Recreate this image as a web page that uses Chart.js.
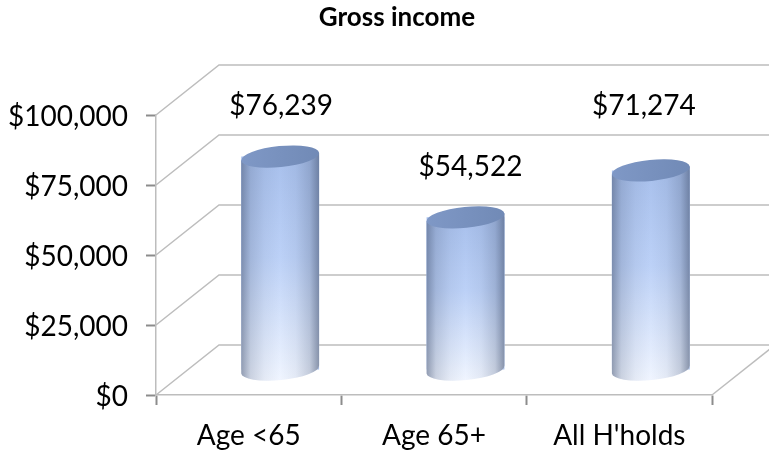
<!DOCTYPE html>
<html lang="en">

<head>
    <meta charset="UTF-8">
    <title>Gross income</title>
    <script src="https://cdn.jsdelivr.net/npm/chart.js"></script>
    <style>
        body { margin: 0; background: #fff; }
        canvas { display: block; }
    </style>
</head>

<body>
    <canvas id="graficoRenda" width="769" height="454"></canvas>
</body>
<script>
    const categorias = ['Age <65', 'Age 65+', "All H'holds"];
    const rendaBruta = [76239, 54522, 71274];
    const ticksY = [0, 25000, 50000, 75000, 100000];
    const titulo = 'Gross income';

    // depth of the 3D box, and how far the cylinders sit inside it
    const fundo = { x: 63, y: -50 };
    const meio = { x: 31.5, y: -25 };
    // the value labels were placed by hand, they do not follow the bars exactly
    const ajusteRotulo = [{ x: 1, y: -51 }, { x: 5, y: -50 }, { x: -7, y: -64 }];

    const corGrade = '#bdbdbd';
    const corTick = '#8c8c8c';
    const fonte = 'Lato, "Open Sans", sans-serif';

    function dinheiro(v) {
        return '$' + v.toLocaleString('en-US');
    }

    function linha(ctx, x1, y1, x2, y2, x3, y3) {
        ctx.beginPath();
        ctx.moveTo(x1, y1);
        ctx.lineTo(x2, y2);
        if (x3 !== undefined) ctx.lineTo(x3, y3);
        ctx.stroke();
    }

    function cilindro(ctx, bar) {
        const cx = bar.x;
        const topo = bar.y;
        const base = bar.base;
        const rot = -0.1;
        const rx = bar.width / 2 / Math.cos(rot);
        const ry = 10.5;
        const dy = rx * Math.sin(rot);
        const esq = cx - bar.width / 2;
        const dir = cx + bar.width / 2;

        // body, light towards the floor
        ctx.beginPath();
        ctx.moveTo(esq, topo - dy);
        ctx.lineTo(esq, base - dy);
        ctx.ellipse(cx, base, rx, ry, rot, Math.PI, 0, true);
        ctx.lineTo(dir, topo + dy);
        ctx.closePath();
        const vertical = ctx.createLinearGradient(0, topo, 0, base + ry);
        vertical.addColorStop(0, '#a8c0ec');
        vertical.addColorStop(0.45, '#bcd1f7');
        vertical.addColorStop(1, '#f0f5ff');
        ctx.fillStyle = vertical;
        ctx.fill();

        // dark edges on top of it
        const lados = ctx.createLinearGradient(esq, 0, dir, 0);
        lados.addColorStop(0, 'rgba(70,85,115,0.55)');
        lados.addColorStop(0.12, 'rgba(70,85,115,0.22)');
        lados.addColorStop(0.3, 'rgba(70,85,115,0.07)');
        lados.addColorStop(0.5, 'rgba(70,85,115,0)');
        lados.addColorStop(0.7, 'rgba(70,85,115,0.07)');
        lados.addColorStop(0.88, 'rgba(70,85,115,0.25)');
        lados.addColorStop(1, 'rgba(70,85,115,0.6)');
        ctx.fillStyle = lados;
        ctx.fill();

        // lid
        ctx.beginPath();
        ctx.ellipse(cx, topo, rx, ry, rot, 0, Math.PI * 2);
        const tampa = ctx.createLinearGradient(esq, 0, dir, 0);
        tampa.addColorStop(0, '#7f98c6');
        tampa.addColorStop(1, '#718ab6');
        ctx.fillStyle = tampa;
        ctx.fill();
    }

    const caixa3d = {
        id: 'caixa3d',
        beforeDatasetsDraw(chart) {
            const { ctx, chartArea, scales } = chart;
            ctx.save();
            ctx.strokeStyle = corGrade;
            ctx.lineWidth = 1.5;
            ticksY.forEach(function (valor) {
                const y = scales.y.getPixelForValue(valor);
                linha(ctx, chartArea.left, y, chartArea.left + fundo.x, y + fundo.y, chartArea.right + fundo.x, y + fundo.y);
            });
            linha(ctx, chartArea.right, chartArea.bottom, chartArea.right + fundo.x, chartArea.bottom + fundo.y);
            ctx.restore();
        },
        beforeDatasetDraw(chart) {
            chart.ctx.save();
            chart.ctx.translate(meio.x, meio.y);
        },
        afterDatasetDraw(chart, args) {
            const ctx = chart.ctx;
            args.meta.data.forEach(function (bar) {
                cilindro(ctx, bar);
            });
            ctx.restore();
        },
        afterDatasetsDraw(chart) {
            const ctx = chart.ctx;
            const barras = chart.getDatasetMeta(0).data;
            ctx.save();
            ctx.fillStyle = '#000';
            ctx.textAlign = 'center';
            ctx.textBaseline = 'middle';
            ctx.font = '28px ' + fonte;
            rendaBruta.forEach(function (valor, i) {
                const x = barras[i].x + meio.x + ajusteRotulo[i].x;
                const y = barras[i].y + meio.y + ajusteRotulo[i].y;
                ctx.fillText(dinheiro(valor), x, y);
            });
            ctx.font = 'bold 26px ' + fonte;
            ctx.fillText(titulo, 397, 18);
            ctx.restore();
        }
    };

    new Chart(document.getElementById('graficoRenda'), {
        type: 'bar',
        data: {
            labels: categorias,
            datasets: [{
                data: rendaBruta,
                backgroundColor: '#a8c0ec',
                categoryPercentage: 1,
                barPercentage: 0.42,
                clip: false
            }]
        },
        plugins: [caixa3d],
        options: {
            responsive: false,
            animation: false,
            layout: { padding: { top: 115, right: 57, bottom: 0, left: 0 } },
            plugins: {
                legend: { display: false },
                tooltip: { enabled: false }
            },
            scales: {
                x: {
                    afterFit(escala) { escala.height = 59; },
                    border: { color: corGrade, width: 1.5 },
                    grid: { drawOnChartArea: false, tickLength: 10, tickColor: corTick, tickWidth: 2 },
                    ticks: { color: '#000', padding: 14, maxRotation: 0, font: { family: fonte, size: 28 } }
                },
                y: {
                    min: 0,
                    max: 100000,
                    afterFit(escala) { escala.width = 156; },
                    afterBuildTicks(escala) { escala.ticks = ticksY.map(v => ({ value: v })); },
                    border: { color: corGrade, width: 1.5 },
                    grid: { drawOnChartArea: false, tickLength: 10, tickColor: corTick, tickWidth: 2 },
                    ticks: { color: '#000', padding: 18, labelOffset: 2, callback: dinheiro, font: { family: fonte, size: 28 } }
                }
            }
        }
    });
</script>

</html>
